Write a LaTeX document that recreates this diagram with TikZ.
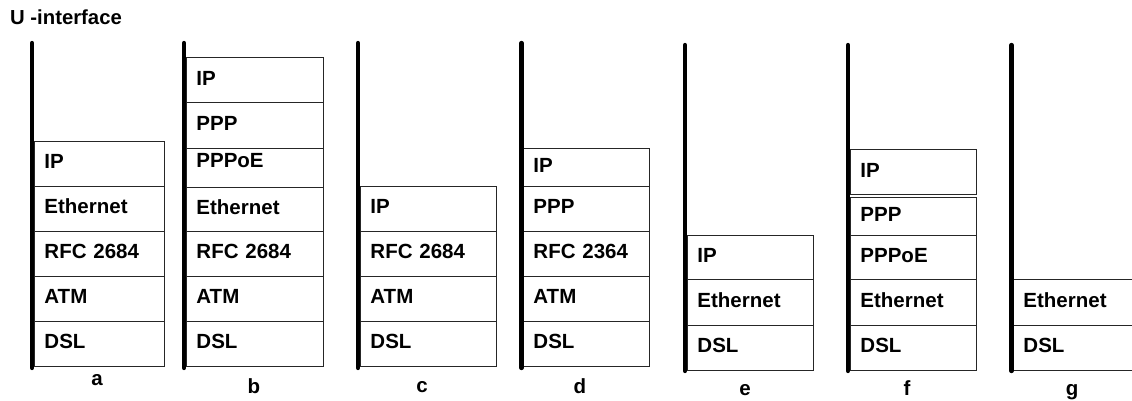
\documentclass[tikz,border=0pt]{standalone}
\usepackage{fontspec}
\setmainfont{Liberation Sans}
\newcommand{\labfont}{\bfseries\fontsize{20.5}{24}\selectfont}
\newcommand{\ttlfont}{\bfseries\fontsize{20.3}{24}\selectfont}
\tikzset{
  layer/.style={draw=black!85, line width=0.9pt, anchor=north west, inner xsep=10pt, inner ysep=0pt,
    align=left, font=\labfont, text height=10pt, text depth=0pt},
  colA/.style={minimum width=130pt, text width=110pt},
  colB/.style={minimum width=137pt, text width=117pt},
  colC/.style={minimum width=136pt, text width=116pt},
  colD/.style={minimum width=126pt, text width=106pt},
  colG/.style={minimum width=135pt, text width=115pt},
  spine/.style={line width=4.3pt, line cap=round, black},
  caption/.style={font=\labfont, anchor=base, inner sep=0pt}
}
\begin{document}
\begin{tikzpicture}[x=1pt, y=-1pt]
\useasboundingbox (0,0) rectangle (1132,401);
\node[font=\ttlfont, anchor=base west, inner sep=0pt] (title) at (10,25) {U -interface};

% stack a
\node[layer, colA, minimum height=45pt] (a1) at (34,141) {IP};
\node[layer, colA, minimum height=45pt] (a2) at (34,186) {Ethernet};
\node[layer, colA, minimum height=45pt] (a3) at (34,231) {RFC 2684};
\node[layer, colA, minimum height=45pt] (a4) at (34,276) {ATM};
\node[layer, colA, minimum height=45pt] (a5) at (34,321) {DSL};
\coordinate (aT) at (32,43); \coordinate (aB) at (32,368);
\draw[spine] (aT) -- (aB);
\node[caption] (la) at (97,385) {a};

% stack b
\node[layer, colB, minimum height=45.5pt] (b1) at (186,57) {IP};
\node[layer, colB, minimum height=45.5pt] (b2) at (186,102.5) {PPP};
\node[layer, colB, minimum height=38.5pt] (b3) at (186,148) {\raisebox{5.5pt}[\height][\depth]{PPPoE}};
\node[layer, colB, minimum height=44.5pt] (b4) at (186,186.5) {Ethernet};
\node[layer, colB, minimum height=45pt] (b5) at (186,231) {RFC 2684};
\node[layer, colB, minimum height=45pt] (b6) at (186,276) {ATM};
\node[layer, colB, minimum height=45pt] (b7) at (186,321) {DSL};
\coordinate (bT) at (184,43); \coordinate (bB) at (184,368);
\draw[spine] (bT) -- (bB);
\node[caption] (lb) at (254,393) {b};

% stack c
\node[layer, colC, minimum height=45pt] (c1) at (360,186) {IP};
\node[layer, colC, minimum height=45pt] (c2) at (360,231) {RFC 2684};
\node[layer, colC, minimum height=45pt] (c3) at (360,276) {ATM};
\node[layer, colC, minimum height=45pt] (c4) at (360,321) {DSL};
\coordinate (cT) at (358,43); \coordinate (cB) at (358,368);
\draw[spine] (cT) -- (cB);
\node[caption] (lc) at (422,392) {c};

% stack d
\node[layer, colD, minimum height=38pt] (d1) at (523,148) {IP};
\node[layer, colD, minimum height=45pt] (d2) at (523,186) {PPP};
\node[layer, colD, minimum height=45pt] (d3) at (523,231) {RFC 2364};
\node[layer, colD, minimum height=45pt] (d4) at (523,276) {ATM};
\node[layer, colD, minimum height=45pt] (d5) at (523,321) {DSL};
\coordinate (dT) at (521.5,43); \coordinate (dB) at (521.5,368);
\draw[spine] (dT) -- (dB);
\node[caption] (ld) at (580,393) {d};

% stack e
\node[layer, colD, minimum height=44pt] (e1) at (687,235) {IP};
\node[layer, colD, minimum height=46pt] (e2) at (687,279) {Ethernet};
\node[layer, colD, minimum height=45pt] (e3) at (687,325) {DSL};
\coordinate (eT) at (685,45); \coordinate (eB) at (685,371);
\draw[spine] (eT) -- (eB);
\node[caption] (le) at (745,395) {e};

% stack f
\node[layer, colD, minimum height=44.7pt] (f1) at (850,149.3) {IP};
\node[layer, colD, minimum height=38pt] (f2) at (850,197) {PPP};
\node[layer, colD, minimum height=44pt] (f3) at (850,235) {PPPoE};
\node[layer, colD, minimum height=46pt] (f4) at (850,279) {Ethernet};
\node[layer, colD, minimum height=45pt] (f5) at (850,325) {DSL};
\coordinate (fT) at (848,45); \coordinate (fB) at (848,371);
\draw[spine] (fT) -- (fB);
\node[caption] (lf) at (907,395) {f};

% stack g
\node[layer, colG, minimum height=46pt] (g1) at (1013,279) {Ethernet};
\node[layer, colG, minimum height=45pt] (g2) at (1013,325) {DSL};
\coordinate (gT) at (1011.5,45); \coordinate (gB) at (1011.5,371);
\draw[spine] (gT) -- (gB);
\node[caption] (lg) at (1072,395) {g};
\end{tikzpicture}
\end{document}
